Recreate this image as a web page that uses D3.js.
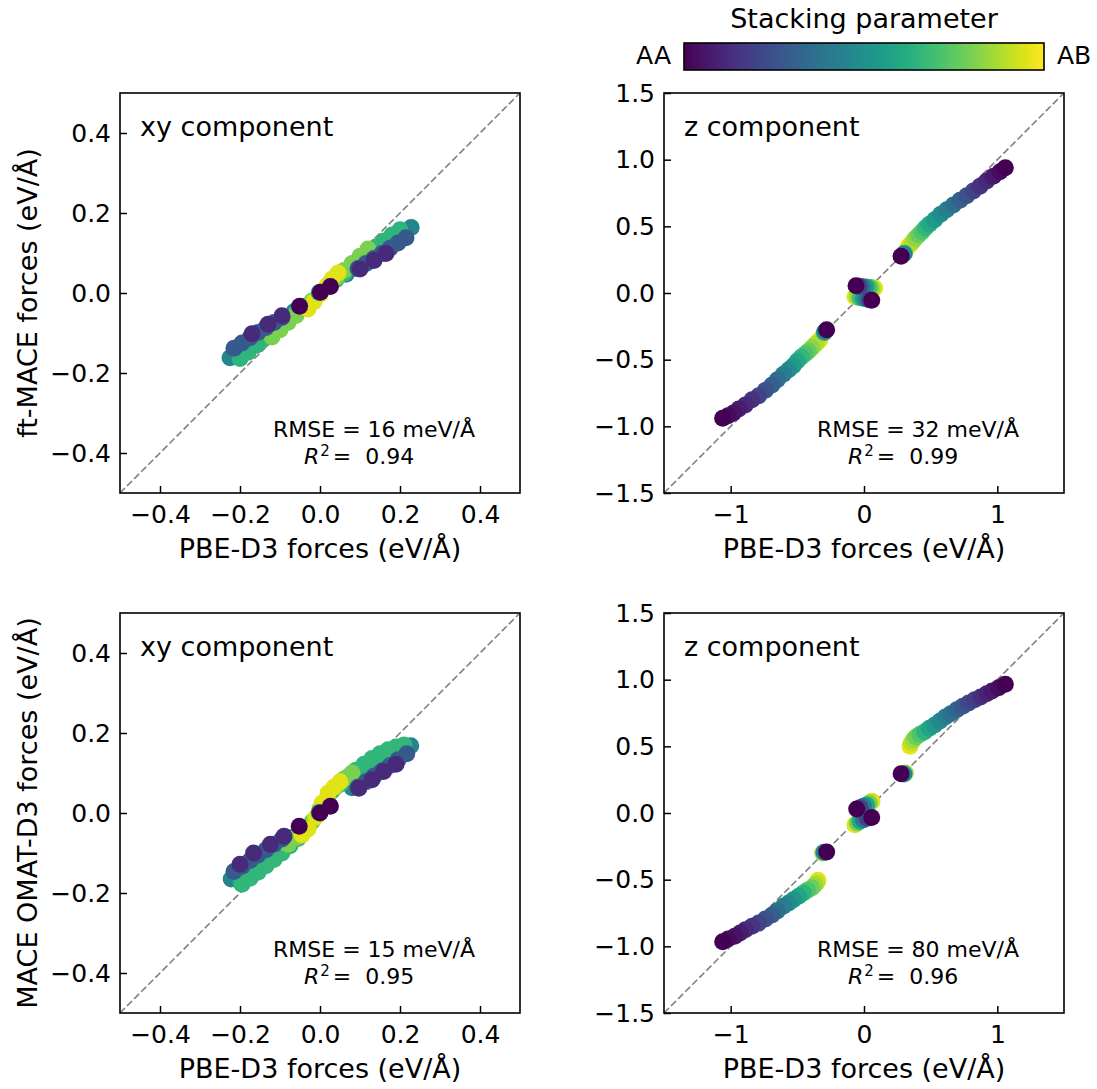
<!DOCTYPE html>
<html>
<head>
<meta charset="utf-8">
<script src="https://cdn.jsdelivr.net/npm/d3@7"></script>
<style>
body { margin: 0; background: #fff; }
svg { font-family: "DejaVu Sans", sans-serif; }
</style>
</head>
<body>
<svg id="chart" width="1097" height="1089"></svg>
<script>
'use strict';

// rows: [PBE-D3 force, model force, stacking parameter (0 = AA, 1 = AB)]
const ftXY = [
  [-0.225,-0.162,0.45],[-0.205,-0.148,0.45],[-0.185,-0.133,0.45],[-0.165,-0.119,0.45],[-0.145,-0.104,0.45],[-0.125,-0.09,0.45],
  [-0.105,-0.076,0.45],[-0.085,-0.061,0.45],[-0.065,-0.047,0.45],
  [0.065,0.047,0.45],[0.085,0.061,0.45],[0.105,0.076,0.45],[0.125,0.09,0.45],[0.145,0.104,0.45],[0.165,0.119,0.45],
  [0.185,0.133,0.45],[0.205,0.148,0.45],[0.228,0.164,0.45],
  [-0.2,-0.164,0.65],[-0.18,-0.148,0.65],[-0.16,-0.131,0.65],[-0.14,-0.115,0.65],[-0.12,-0.098,0.65],[-0.1,-0.082,0.65],
  [-0.08,-0.066,0.65],[-0.06,-0.049,0.65],[-0.04,-0.033,0.65],
  [0.04,0.033,0.65],[0.06,0.049,0.65],[0.08,0.066,0.65],[0.1,0.082,0.65],[0.12,0.098,0.65],[0.14,0.115,0.65],
  [0.16,0.13,0.65],[0.18,0.145,0.65],[0.2,0.158,0.65],
  [-0.12,-0.11,0.8],[-0.1,-0.092,0.8],[-0.08,-0.074,0.8],[-0.06,-0.056,0.8],[-0.04,-0.038,0.8],[-0.02,-0.02,0.8],
  [0.02,0.02,0.8],[0.04,0.038,0.8],[0.06,0.056,0.8],[0.08,0.074,0.8],[0.1,0.092,0.8],[0.12,0.11,0.8],
  [-0.03,-0.04,0.95],[-0.015,-0.022,0.95],[0.0,-0.003,0.95],[0.015,0.015,0.95],[0.03,0.035,0.95],[0.045,0.05,0.95],
  [-0.215,-0.138,0.28],[-0.195,-0.125,0.28],[-0.175,-0.112,0.28],[-0.155,-0.099,0.28],[-0.135,-0.086,0.28],[-0.115,-0.074,0.28],[-0.095,-0.061,0.28],
  [0.095,0.061,0.28],[0.115,0.074,0.28],[0.135,0.086,0.28],[0.155,0.099,0.28],[0.175,0.112,0.28],[0.195,0.125,0.28],[0.215,0.138,0.28],
  [-0.17,-0.102,0.12],[-0.13,-0.078,0.12],[-0.095,-0.057,0.12],[0.1,0.06,0.12],[0.135,0.081,0.12],[0.165,0.099,0.12],
  [-0.002,0.001,0.5],[-0.051,-0.033,0.0],[0.001,0.002,0.0],[0.026,0.016,0.0]
];

const ftZ = [
  [-1.06,-0.94,0.0],[-1.02,-0.92,0.03],[-0.98,-0.9,0.05],[-0.94,-0.87,0.08],[-0.89,-0.84,0.11],[-0.84,-0.8,0.15],
  [-0.79,-0.77,0.2],[-0.74,-0.73,0.25],[-0.69,-0.69,0.3],[-0.65,-0.65,0.36],[-0.605,-0.61,0.42],[-0.565,-0.575,0.48],
  [-0.53,-0.545,0.55],[-0.5,-0.51,0.6],[-0.47,-0.48,0.66],[-0.44,-0.455,0.72],[-0.415,-0.435,0.77],[-0.39,-0.41,0.83],
  [-0.365,-0.385,0.88],[-0.345,-0.365,0.93],[-0.33,-0.35,0.97],
  [-0.3,-0.3,0.75],[-0.295,-0.29,0.45],[-0.28,-0.275,0.0],
  [0.278,0.275,0.0],[0.3,0.295,0.45],[0.305,0.3,0.75],
  [0.33,0.345,0.97],[0.345,0.362,0.93],[0.365,0.385,0.88],[0.385,0.41,0.83],[0.41,0.435,0.77],[0.435,0.46,0.72],
  [0.46,0.488,0.66],[0.49,0.515,0.6],[0.53,0.55,0.54],[0.575,0.59,0.48],[0.62,0.625,0.42],[0.67,0.66,0.36],
  [0.72,0.695,0.3],[0.77,0.73,0.25],[0.82,0.765,0.2],[0.87,0.8,0.15],[0.92,0.84,0.11],[0.97,0.875,0.07],
  [1.02,0.91,0.03],[1.06,0.94,0.0],
  [-0.06,0.055,0.0],[-0.035,0.05,0.2],[-0.01,0.047,0.4],[0.015,0.045,0.55],[0.04,0.042,0.7],[0.06,0.04,0.85],[0.08,0.037,0.95],
  [-0.068,-0.028,0.95],[-0.05,-0.03,0.85],[-0.03,-0.035,0.7],[-0.005,-0.04,0.55],[0.02,-0.045,0.4],[0.04,-0.05,0.2],[0.058,-0.055,0.0]
];

const omatXY = [
  [-0.222,-0.165,0.45],[-0.2,-0.152,0.45],[-0.18,-0.137,0.45],[-0.16,-0.122,0.45],[-0.14,-0.106,0.45],[-0.12,-0.091,0.45],
  [-0.1,-0.076,0.45],[-0.08,-0.061,0.45],
  [0.08,0.063,0.45],[0.1,0.079,0.45],[0.12,0.095,0.45],[0.14,0.11,0.45],[0.16,0.125,0.45],[0.18,0.139,0.45],
  [0.2,0.153,0.45],[0.227,0.168,0.45],
  [-0.2,-0.17,0.55],[-0.17,-0.146,0.55],[-0.14,-0.12,0.55],[-0.11,-0.095,0.55],
  [0.11,0.1,0.55],[0.14,0.125,0.55],[0.17,0.15,0.55],[0.2,0.165,0.55],
  [-0.195,-0.178,0.66],[-0.175,-0.163,0.66],[-0.155,-0.148,0.66],[-0.135,-0.132,0.66],[-0.115,-0.116,0.66],[-0.095,-0.1,0.66],
  [-0.075,-0.082,0.66],[-0.055,-0.064,0.66],
  [0.03,0.055,0.66],[0.05,0.072,0.66],[0.07,0.09,0.66],[0.09,0.107,0.66],[0.11,0.122,0.66],[0.13,0.136,0.66],
  [0.15,0.148,0.66],[0.17,0.158,0.66],[0.19,0.165,0.66],[0.21,0.17,0.66],
  [-0.08,-0.078,0.8],[-0.06,-0.062,0.8],[-0.04,-0.045,0.8],[-0.02,-0.022,0.8],[0.0,0.01,0.8],[0.02,0.04,0.8],
  [0.04,0.065,0.8],[0.06,0.085,0.8],[0.08,0.1,0.8],
  [-0.045,-0.055,0.95],[-0.03,-0.04,0.95],[-0.01,-0.01,0.95],[0.005,0.025,0.95],[0.02,0.05,0.95],[0.035,0.065,0.95],[0.05,0.078,0.95],
  [-0.215,-0.146,0.28],[-0.195,-0.133,0.28],[-0.175,-0.119,0.28],[-0.155,-0.105,0.28],[-0.135,-0.092,0.28],[-0.115,-0.078,0.28],[-0.095,-0.065,0.28],
  [0.095,0.065,0.28],[0.115,0.078,0.28],[0.135,0.092,0.28],[0.155,0.105,0.28],[0.175,0.119,0.28],[0.195,0.133,0.28],[0.217,0.148,0.28],
  [-0.2,-0.128,0.12],[-0.166,-0.1,0.12],[-0.124,-0.078,0.12],[-0.09,-0.058,0.12],
  [0.097,0.062,0.12],[0.13,0.083,0.12],[0.159,0.104,0.12],[0.19,0.122,0.12],
  [-0.002,0.001,0.5],[-0.052,-0.033,0.0],[0.0,0.0,0.0],[0.026,0.017,0.0]
];

const omatZ = [
  [-1.06,-0.965,0.0],[-1.02,-0.945,0.03],[-0.97,-0.925,0.05],[-0.93,-0.9,0.08],[-0.89,-0.875,0.11],[-0.84,-0.85,0.15],
  [-0.79,-0.825,0.2],[-0.74,-0.795,0.25],[-0.69,-0.765,0.3],[-0.65,-0.735,0.36],[-0.605,-0.7,0.42],[-0.565,-0.675,0.47],
  [-0.53,-0.65,0.52],[-0.49,-0.625,0.59],[-0.455,-0.6,0.65],[-0.425,-0.58,0.72],[-0.39,-0.56,0.78],[-0.37,-0.54,0.85],
  [-0.355,-0.525,0.9],[-0.345,-0.505,0.96],
  [-0.31,-0.3,0.85],[-0.3,-0.295,0.45],[-0.28,-0.293,0.0],
  [0.278,0.295,0.0],[0.3,0.293,0.45],[0.31,0.3,0.85],
  [0.345,0.5,0.96],[0.355,0.525,0.9],[0.37,0.55,0.85],[0.39,0.57,0.78],[0.42,0.59,0.72],[0.455,0.61,0.65],
  [0.49,0.635,0.59],[0.53,0.66,0.53],[0.57,0.69,0.47],[0.61,0.72,0.42],[0.65,0.745,0.37],[0.695,0.775,0.32],
  [0.74,0.8,0.27],[0.785,0.825,0.22],[0.83,0.85,0.18],[0.875,0.87,0.14],[0.92,0.895,0.1],[0.96,0.915,0.07],
  [1.01,0.94,0.03],[1.06,0.965,0.0],
  [-0.055,0.03,0.0],[-0.03,0.04,0.2],[-0.005,0.05,0.4],[0.02,0.06,0.6],[0.04,0.075,0.8],[0.06,0.088,0.95],
  [-0.068,-0.088,0.95],[-0.05,-0.075,0.8],[-0.03,-0.062,0.6],[-0.005,-0.05,0.4],[0.025,-0.04,0.2],[0.058,-0.033,0.0]
];

const xyTicks = [-0.4, -0.2, 0, 0.2, 0.4];
const zTicksX = [-1, 0, 1];
const zTicksY = [-1.5, -1, -0.5, 0, 0.5, 1, 1.5];
const titles = ["xy component", "z component"];
const xLabel = "PBE-D3 forces (eV/Å)";
const yLabels = ["ft-MACE forces (eV/Å)", "MACE OMAT-D3 forces (eV/Å)"];
const rmseVals = [16, 32, 15, 80];
const r2Vals = [0.94, 0.99, 0.95, 0.96];

const svg = d3.select("#chart");
const size = 400;
const colX = [120, 664];
const rowY = [93, 613];
const color = d3.interpolateViridis;

const panels = [
  {data: ftXY, kind: "xy", col: 0, row: 0},
  {data: ftZ, kind: "z", col: 1, row: 0},
  {data: omatXY, kind: "xy", col: 0, row: 1},
  {data: omatZ, kind: "z", col: 1, row: 1}
];

panels.forEach(function(p, i) {
  const x0 = colX[p.col], y0 = rowY[p.row];
  const lim = p.kind === "xy" ? 0.5 : 1.5;
  const x = d3.scaleLinear().domain([-lim, lim]).range([x0, x0 + size]);
  const y = d3.scaleLinear().domain([-lim, lim]).range([y0 + size, y0]);
  const g = svg.append("g");

  // parity line
  g.append("line")
    .attr("x1", x(-lim)).attr("y1", y(-lim))
    .attr("x2", x(lim)).attr("y2", y(lim))
    .attr("stroke", "#808080").attr("stroke-width", 1.6)
    .attr("stroke-dasharray", "7,3");

  const rows = p.kind === "z" ? p.data.slice().sort((a, b) => b[2] - a[2]) : p.data;
  g.append("g").selectAll("circle")
    .data(rows)
    .enter().append("circle")
      .attr("cx", d => x(d[0]))
      .attr("cy", d => y(d[1]))
      .attr("r", 8.5)
      .attr("fill", d => color(d[2]));

  // axes, ticks pointing inward
  const fmtX = p.kind === "xy" ? d3.format(".1f") : d3.format("d");
  const xAxis = g.append("g")
    .attr("transform", `translate(0,${y0 + size})`)
    .call(d3.axisBottom(x).tickValues(p.kind === "xy" ? xyTicks : zTicksX)
      .tickFormat(fmtX).tickSizeInner(-7).tickSizeOuter(0).tickPadding(12));
  const yAxis = g.append("g")
    .attr("transform", `translate(${x0},0)`)
    .call(d3.axisLeft(y).tickValues(p.kind === "xy" ? xyTicks : zTicksY)
      .tickFormat(d3.format(".1f")).tickSizeInner(-7).tickSizeOuter(0).tickPadding(9));
  [xAxis, yAxis].forEach(function(a) {
    a.select(".domain").remove();
    a.attr("font-family", null).attr("font-size", null);
    a.selectAll("line").attr("stroke", "#000").attr("stroke-width", 1.5);
    a.selectAll("text").attr("fill", "#000").style("font-size", "25px");
  });

  g.append("rect")
    .attr("x", x0).attr("y", y0).attr("width", size).attr("height", size)
    .attr("fill", "none").attr("stroke", "#000").attr("stroke-width", 1.6);

  g.append("text")
    .attr("x", x0 + 20).attr("y", y0 + 43)
    .style("font-size", "27px")
    .text(titles[p.col]);

  g.append("text")
    .attr("x", x0 + size / 2).attr("y", y0 + size + 65)
    .attr("text-anchor", "middle")
    .style("font-size", "27px")
    .text(xLabel);

  if (p.col === 0) {
    g.append("text")
      .attr("transform", `translate(37,${y0 + size / 2}) rotate(-90)`)
      .attr("text-anchor", "middle")
      .style("font-size", "27px")
      .text(yLabels[p.row]);
  }

  g.append("text")
    .attr("x", x0 + 153).attr("y", y0 + 344)
    .style("font-size", "22px")
    .text(`RMSE = ${rmseVals[i]} meV/Å`);

  const r2 = g.append("text")
    .attr("x", x0 + 184).attr("y", y0 + 371)
    .style("font-size", "22px");
  r2.append("tspan").attr("font-style", "italic").text("R");
  r2.append("tspan").attr("dy", -8).attr("dx", 1).style("font-size", "15px").text("2");
  r2.append("tspan").attr("dy", 8).attr("dx", 3).text(`= \u00a0${r2Vals[i].toFixed(2)}`);
});

// colorbar
const cbX = 684, cbY = 43, cbW = 360, cbH = 27;
const grad = svg.append("defs").append("linearGradient").attr("id", "viridis");
d3.range(0, 1.0001, 0.05).forEach(function(t) {
  grad.append("stop").attr("offset", t).attr("stop-color", color(t));
});
svg.append("rect")
  .attr("x", cbX).attr("y", cbY).attr("width", cbW).attr("height", cbH)
  .attr("fill", "url(#viridis)").attr("stroke", "#000").attr("stroke-width", 1.6);
svg.append("text")
  .attr("x", cbX + cbW / 2).attr("y", 28)
  .attr("text-anchor", "middle").style("font-size", "27px")
  .text("Stacking parameter");
svg.append("text")
  .attr("x", cbX - 13).attr("y", 64)
  .attr("text-anchor", "end").style("font-size", "25px")
  .text("AA");
svg.append("text")
  .attr("x", cbX + cbW + 13).attr("y", 64)
  .style("font-size", "25px")
  .text("AB");
</script>
</body>
</html>
